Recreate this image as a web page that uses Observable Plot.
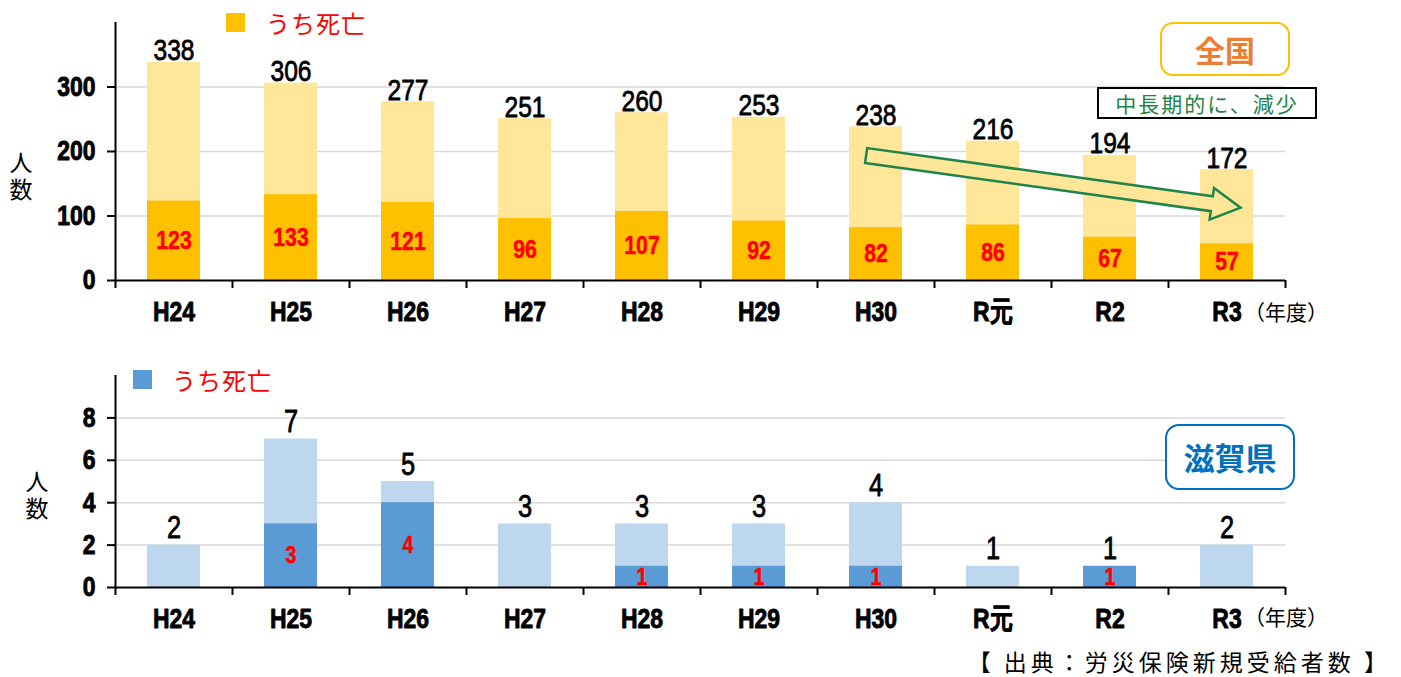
<!DOCTYPE html>
<html><head><meta charset="utf-8">
<script src="https://cdn.jsdelivr.net/npm/d3@7"></script>
<script src="https://cdn.jsdelivr.net/npm/@observablehq/plot@0.6"></script>
<style>
body{margin:0;background:#fff;}
#wrap{position:relative;width:1401px;height:677px;overflow:hidden;font-family:"Noto Sans CJK JP",sans-serif;}
.abs{position:absolute;white-space:nowrap;}
.plot{position:absolute;left:0;}
.vert{writing-mode:vertical-rl;text-orientation:upright;}
</style></head>
<body><div id="wrap"></div>
<script>
// ---- data ----
const categories = ["H24","H25","H26","H27","H28","H29","H30","R元","R2","R3"];
const nationalTotal = [338,306,277,251,260,253,238,216,194,172];
const nationalDeaths = [123,133,121,96,107,92,82,86,67,57];
const shigaTotal = [2,7,5,3,3,3,4,1,1,2];
const shigaDeaths = [0,3,4,0,1,1,1,0,1,0];
const nationalTicks = [0,100,200,300];
const shigaTicks = [0,2,4,6,8];
// trend arrow (category position, value)
const arrowStart = [6.42, 193];
const arrowEnd = [9.62, 112];

const NUM = "'Liberation Sans',Arial,sans-serif";
const wrap = document.getElementById("wrap");

function panel(total, deaths, opts){
  const rows = categories.map((c,i)=>({i, cat:c, total:total[i], deaths:deaths[i]}));
  const plot = Plot.plot({
    width:1401, height:opts.height,
    marginLeft:115, marginRight:116, marginTop:opts.mt, marginBottom:opts.mb,
    style:{fontFamily:NUM, background:"transparent", overflow:"visible"},
    x:{type:"linear", domain:[0,10], axis:null},
    y:{domain:opts.domain, axis:null},
    marks:[
      Plot.gridY(opts.ticks.filter(t=>t>0), {stroke:"#d9d9d9", strokeWidth:1.5, strokeOpacity:1}),
      Plot.rectY(rows, {x1:"i", x2:d=>d.i+1, y1:0, y2:"total", fill:opts.light, insetLeft:32, insetRight:32}),
      Plot.rectY(rows.filter(d=>d.deaths>0), {x1:"i", x2:d=>d.i+1, y1:0, y2:"deaths", fill:opts.dark, insetLeft:32, insetRight:32}),
      Plot.ruleX([0], {stroke:"#000", strokeWidth:2}),
      Plot.ruleY([0], {stroke:"#000", strokeWidth:2}),
      Plot.axisY({ticks:opts.ticks, tickSize:8, tickPadding:12, fontSize:28, fontWeight:"bold", stroke:"#000", strokeWidth:2, color:"#000", label:null}),
      Plot.axisX({ticks:d3.range(11), tickSize:8, tickFormat:()=>"", stroke:"#000", strokeWidth:2, label:null}),
      Plot.text(rows, {x:d=>d.i+0.5, y:opts.domain[0], text:"cat", dy:32, fontSize:28, fontWeight:"bold", fill:"#000", stroke:"#000", strokeWidth:0.9, paintOrder:"normal"}),
      Plot.text(rows, {x:d=>d.i+0.5, y:"total", text:d=>String(d.total), lineAnchor:"bottom", dy:opts.totalDy, fontSize:opts.totalSize, fill:"#000", stroke:"#000", strokeWidth:0.8, paintOrder:"normal"}),
      Plot.text(rows.filter(d=>d.deaths>0), {x:d=>d.i+0.5, y:d=>d.deaths/2, text:d=>String(d.deaths), fontSize:opts.redSize, fontWeight:"bold", fill:"#FF0000", stroke:"#FF0000", strokeWidth:0.5, paintOrder:"normal"})
    ]
  });
  // heavier y tick labels
  d3.select(plot).selectAll("g[aria-label='y-axis tick label']").attr("stroke","#000").attr("stroke-width",0.9);
  // narrow the Latin/number lettering (Arial Narrow look)
  d3.select(plot).selectAll("text").each(function(){
    const t = this.getAttribute("transform") || "";
    this.setAttribute("transform", t + " scale(0.82,1)");
  });
  plot.classList.add("plot");
  plot.style.top = opts.top+"px";
  wrap.appendChild(plot);
  return plot;
}

const topPlot = panel(nationalTotal, nationalDeaths, {height:340, mt:22, mb:60, top:0, domain:[0,400], ticks:nationalTicks, light:"#FFE699", dark:"#FFC000", redSize:26, totalSize:30, totalDy:-2});
const botPlot = panel(shigaTotal, shigaDeaths, {height:300, mt:20, mb:68, top:355, domain:[0,10], ticks:shigaTicks, light:"#BDD7EE", dark:"#5B9BD5", redSize:24, totalSize:31, totalDy:-7});

// trend arrow drawn through the top panel's scales
(function(){
  const sx = topPlot.scale("x"), sy = topPlot.scale("y");
  const x0 = sx.apply(arrowStart[0]), y0 = sy.apply(arrowStart[1]);
  const x1 = sx.apply(arrowEnd[0]), y1 = sy.apply(arrowEnd[1]);
  const L = Math.hypot(x1-x0, y1-y0), ux=(x1-x0)/L, uy=(y1-y0)/L, nx=-uy, ny=ux;
  const hw=7.5, hh=16, hl=29;
  const bx = x1-ux*hl, by = y1-uy*hl;
  const pts = [
    [x0+nx*hw, y0+ny*hw],[bx+nx*hw, by+ny*hw],[bx+nx*hh, by+ny*hh],[x1,y1],
    [bx-nx*hh, by-ny*hh],[bx-nx*hw, by-ny*hw],[x0-nx*hw, y0-ny*hw]
  ];
  d3.select(topPlot).append("polygon").attr("points", pts.map(p=>p.join(",")).join(" "))
    .attr("fill","#FFE699").attr("stroke","#1E8449").attr("stroke-width",2.5).attr("stroke-linejoin","miter");
})();

function add(html, css, cls){
  const d = document.createElement("div"); d.className="abs" + (cls ? " "+cls : ""); d.innerHTML=html;
  Object.assign(d.style, css); wrap.appendChild(d); return d;
}
// legends
add("", {left:"226px", top:"13px", width:"19px", height:"19px", background:"#FFC000"});
add("うち死亡", {left:"266px", top:"6px", fontSize:"24px", lineHeight:"34px", color:"#FF0000", letterSpacing:"1px"});
add("", {left:"133px", top:"370px", width:"19px", height:"19px", background:"#5B9BD5"});
add("うち死亡", {left:"172px", top:"363px", fontSize:"24px", lineHeight:"34px", color:"#FF0000", letterSpacing:"1px"});
// y labels (vertical)
add("人数", {left:"8px", top:"151px", fontSize:"23px", lineHeight:"26px", letterSpacing:"4px", color:"#000"}, "vert");
add("人数", {left:"24px", top:"470px", fontSize:"23px", lineHeight:"26px", letterSpacing:"4px", color:"#000"}, "vert");
// year unit
add("（年度）", {left:"1244px", top:"296px", fontSize:"21px", lineHeight:"30px", color:"#000"});
add("（年度）", {left:"1244px", top:"601px", fontSize:"21px", lineHeight:"30px", color:"#000"});
// badges
add("全国", {left:"1160px", top:"22px", width:"126px", height:"50px", border:"2.5px solid #FFC000", borderRadius:"13px", textAlign:"center", lineHeight:"50px", fontSize:"30px", fontWeight:"bold", color:"#ED7D31", background:"#fff"});
add("中長期的に、減少", {left:"1097px", top:"87px", width:"216px", height:"28px", border:"2px solid #000", textAlign:"center", lineHeight:"28px", fontSize:"21px", letterSpacing:"2px", color:"#1E8449", background:"#fff"});
add("滋賀県", {left:"1165px", top:"424px", width:"126px", height:"62px", border:"2.5px solid #0070C0", borderRadius:"14px", textAlign:"center", lineHeight:"62px", fontSize:"31px", fontWeight:"bold", color:"#0070C0", background:"#fff"});
// caption
add("【 出典：労災保険新規受給者数 】", {right:"10px", top:"646px", fontSize:"23px", lineHeight:"30px", letterSpacing:"4px", color:"#000"});
</script></body></html>
